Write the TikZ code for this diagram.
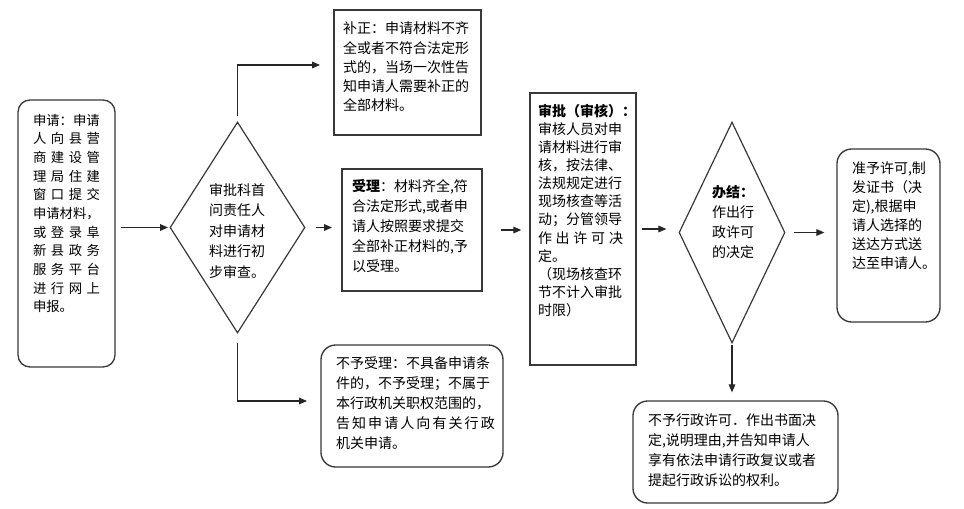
\documentclass[tikz,border=0pt]{standalone}
\usepackage{fontspec}
\setmainfont{Noto Sans CJK SC}
\usetikzlibrary{arrows.meta,shapes.geometric}
\newdimen\pxu \pxu=0.75pt
\hfuzz=100pt \hbadness=10000 \vbadness=10000 \vfuzz=100pt
% W H padx pady fontsize baselineskip text
\newcommand\boxtxt[7]{\parbox[c][#2\pxu][t]{#1\pxu}{\fontsize{#5}{#6}\selectfont\vspace*{#4\pxu}\hspace*{#3\pxu}\parbox[t]{\dimexpr#1\pxu-#3\pxu\relax}{\raggedright #7}}}
\newcommand\spr[2]{\makebox[#1\pxu][s]{#2}}
\tikzset{
  boxline/.style={draw=black!78, line width=1pt, inner sep=0pt, fill=white},
  sqbox/.style={boxline, rectangle},
  rdbox/.style={boxline, rectangle, rounded corners=11pt},
  dia/.style={draw=black!78, line width=0.9pt, shape=diamond, inner sep=0pt},
  arr/.style={draw=black!85, line width=0.8pt, -{Triangle[length=6pt,width=5pt]}},
  dtext/.style={inner sep=0pt, align=left}
}
\begin{document}
\begin{tikzpicture}[x=0.75pt,y=-0.75pt]
\useasboundingbox (0,0) rectangle (964,508);

% boxes
\node[rdbox, rounded corners=9pt] (A) at (66.5,233.5) {\boxtxt{97}{267}{15}{14}{10}{14pt}{%
申请：申请\\%
\spr{67}{人 向 县 营}\\%
\spr{67}{商 建 设 管}\\%
\spr{67}{理 局 住 建}\\%
\spr{67}{窗 口 提 交}\\%
申请材料，\\%
\spr{67}{或 登 录 阜}\\%
\spr{67}{新 县 政 务}\\%
\spr{67}{服 务 平 台}\\%
\spr{67}{进 行 网 上}\\%
申报。}};

\node[sqbox] (B) at (407.5,72.5) {\boxtxt{147}{125}{9}{12}{10.5}{14.4pt}{%
补正：申请材料不齐\\%
全或者不符合法定形\\%
式的，当场一次性告\\%
知申请人需要补正的\\%
全部材料。}};

\node[sqbox] (C) at (412,230) {\boxtxt{140}{122}{10}{10}{10.5}{15pt}{%
\textbf{受理}：材料齐全,符\\%
合法定形式,或者申\\%
请人按照要求提交\\%
全部补正材料的,予\\%
以受理。}};

\node[rdbox] (D) at (412,406) {\boxtxt{182}{122}{15}{12}{10.5}{15pt}{%
不予受理：不具备申请条\\%
件的，不予受理；不属于\\%
本行政机关职权范围的，\\%
\spr{151}{告 知 申 请 人 向 有 关 行 政}\\%
机关申请。}};

\node[sqbox] (E) at (583,229) {\boxtxt{106}{272}{8}{11}{10.5}{13.6pt}{%
\textbf{审批（审核）：}\\%
审核人员对申\\%
请材料进行审\\%
核，按法律、\\%
法规规定进行\\%
现场核查等活\\%
动；分管领导\\%
\spr{85}{作 出 许 可 决}\\%
定。\\%
（现场核查环\\%
节不计入审批\\%
时限）}};

\node[rdbox] (F) at (888.5,235.5) {\boxtxt{103}{173}{15}{13}{10.5}{14.25pt}{%
准予许可,制\\%
发证书（决\\%
定),根据申\\%
请人选择的\\%
送达方式送\\%
达至申请人。}};

\node[rdbox] (G) at (735.5,452) {\boxtxt{205}{102}{15}{13}{10.5}{15pt}{%
不予行政许可．作出书面决\\%
定,说明理由,并告知申请人\\%
享有依法申请行政复议或者\\%
提起行政诉讼的权利。}};

% diamonds
\node[dia, minimum width=135\pxu, minimum height=211\pxu] (D1) at (237.5,227.5) {};
\node[dtext, font=\fontsize{10.5}{15.4pt}\selectfont] (D1t) at (237,231) {审批科首\\问责任人\\对申请材\\料进行初\\步审查。};

\node[dia, minimum width=106\pxu, minimum height=221\pxu] (D2) at (732,232.5) {};
\node[dtext, font=\fontsize{10.5}{15pt}\selectfont] (D2t) at (733,222) {\textbf{办结：}\\作出行\\政许可\\的决定};

% connectors
\coordinate (t1) at (237.5,65);
\coordinate (t2) at (237.5,401);
\draw[arr, shorten >=1pt] ([xshift=4pt]A.east |- D1.west) -- (D1.west);
\draw[arr, shorten >=10pt] ([yshift=4pt]D1.north) -- (t1) -- (t1 -| B.west);
\draw[arr, shorten >=10pt] ([yshift=-7pt]D1.south) -- (t2) -- (t2 -| D.west);
\draw[arr, shorten <=7.5pt, shorten >=7pt] (D1.east) -- (D1.east -| C.west);
\draw[arr, shorten <=13.5pt, shorten >=6pt] (C.east) -- (C.east -| E.west);
\draw[arr, shorten <=4pt, shorten >=9pt] (E.east) -- (E.east -| D2.west);
\draw[arr, shorten <=6pt, shorten >=9pt] (D2.east) -- (D2.east -| F.west);
\draw[arr, shorten <=1pt, shorten >=6pt] (D2.south) -- (D2.south |- G.north);
\end{tikzpicture}
\end{document}
